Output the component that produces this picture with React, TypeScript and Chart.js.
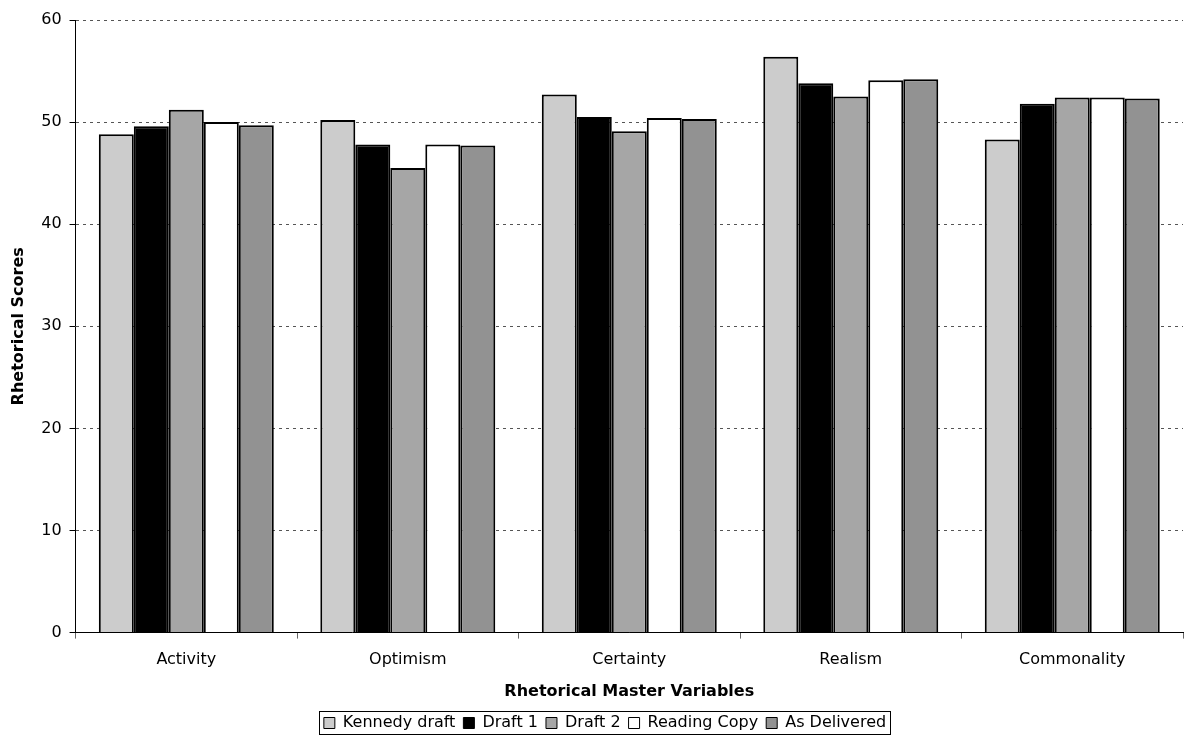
import React, { useEffect, useRef } from "react";
import { Chart, registerables } from "chart.js";

Chart.register(...registerables);

const categories = ["Activity", "Optimism", "Certainty", "Realism", "Commonality"];
const seriesNames = ["Kennedy draft", "Draft 1", "Draft 2", "Reading Copy", "As Delivered"];
const kennedyDraft = [48.8, 50.2, 52.7, 56.4, 48.3];
const draft1 = [49.6, 47.8, 50.5, 53.8, 51.8];
const draft2 = [51.2, 45.5, 49.1, 52.5, 52.4];
const readingCopy = [50.0, 47.8, 50.4, 54.1, 52.4];
const asDelivered = [49.7, 47.7, 50.3, 54.2, 52.3];
const seriesColors = ["#cccccc", "#000000", "#a6a6a6", "#ffffff", "#929292"];
const yTicks = [0, 10, 20, 30, 40, 50, 60];

const FONT = "'DejaVu Sans', Verdana, sans-serif";

const legendShift = {
  id: "legendShift",
  afterLayout(chart: any) {
    const lg = chart.legend;
    if (!lg) return;
    lg.left += 9;
    lg.right += 9;
  },
};

const legendBorder = {
  id: "legendBorder",
  afterDraw(chart: any) {
    const lg = chart.legend;
    if (!lg || !lg.legendHitBoxes || !lg.legendHitBoxes.length) return;
    const boxes = lg.legendHitBoxes;
    const left = Math.min(...boxes.map((b: any) => b.left));
    const right = Math.max(...boxes.map((b: any) => b.left + b.width));
    const top = Math.min(...boxes.map((b: any) => b.top));
    const bottom = Math.max(...boxes.map((b: any) => b.top + b.height));
    const ctx = chart.ctx;
    ctx.save();
    ctx.strokeStyle = "#000";
    ctx.lineWidth = 1;
    ctx.strokeRect(Math.round(left - 5) + 0.5, Math.round(top - 4) + 0.5, Math.round(right - left + 9), Math.round(bottom - top + 7));
    ctx.restore();
  },
};

export default function App() {
  const ref = useRef<HTMLCanvasElement>(null);
  useEffect(() => {
    const values = [kennedyDraft, draft1, draft2, readingCopy, asDelivered];
    const chart = new Chart(ref.current!, {
      type: "bar",
      data: {
        labels: categories,
        datasets: seriesNames.map((name, i) => ({
          label: name,
          data: values[i],
          backgroundColor: seriesColors[i],
          borderColor: "#000000",
          borderWidth: 2,
          categoryPercentage: 0.79,
          barPercentage: 1.0,
        })),
      },
      plugins: [legendShift, legendBorder],
      options: {
        animation: false,
        responsive: false,
        maintainAspectRatio: false,
        layout: { padding: { top: 20, right: 10, left: 9, bottom: 3 } },
        plugins: {
          tooltip: { enabled: false },
          legend: {
            position: "bottom",
            labels: {
              boxWidth: 11,
              boxHeight: 11,
              padding: 8,
              color: "#000",
              font: { family: FONT, size: 16 },
              generateLabels: (chart: any) =>
                chart.data.datasets.map((ds: any, i: number) => ({
                  text: ds.label,
                  fillStyle: ds.backgroundColor,
                  strokeStyle: "#000",
                  lineWidth: 1,
                  datasetIndex: i,
                  hidden: false,
                })),
            },
          },
        },
        scales: {
          x: {
            grid: {
              display: true,
              drawOnChartArea: false,
              drawTicks: true,
              tickLength: 6,
              color: "#666",
              offset: true,
            },
            border: { display: true, color: "#000", width: 1 },
            ticks: { color: "#000", font: { family: FONT, size: 16 }, padding: 12 },
            title: {
              display: true,
              text: "Rhetorical Master Variables",
              color: "#000",
              font: { family: FONT, size: 16, weight: "bold" },
              padding: { top: 0, bottom: 6 },
            },
          },
          y: {
            min: 0,
            max: 60,
            afterBuildTicks: (axis: any) => {
              axis.ticks = yTicks.map((v) => ({ value: v }));
            },
            grid: {
              color: "#555",
              tickBorderDash: [],
              tickColor: "#000",
              tickLength: 6,
              lineWidth: 1,
            },
            border: { display: true, color: "#000", width: 1, dash: [3, 4] },
            ticks: { color: "#000", font: { family: FONT, size: 16 }, padding: 8 },
            title: {
              display: true,
              text: "Rhetorical Scores",
              color: "#000",
              font: { family: FONT, size: 16, weight: "bold" },
              padding: { top: 0, bottom: 5 },
            },
          },
        },
      },
    });
    return () => chart.destroy();
  }, []);
  return (
    <div style={{ position: "fixed", left: 0, top: 0, width: 1193, height: 744, background: "#fff" }}>
      <canvas ref={ref} width={1193} height={744} style={{ display: "block" }} />
    </div>
  );
}
